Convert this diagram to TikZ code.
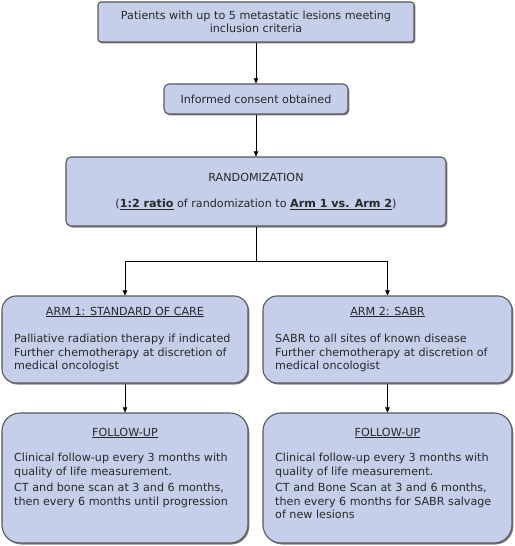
\documentclass[tikz,border=0pt]{standalone}
\usepackage{fontspec}
\setmainfont{DejaVu Sans}
\usetikzlibrary{arrows.meta,positioning,shadows}
\definecolor{boxfill}{RGB}{197,207,234}
\definecolor{boxline}{RGB}{88,88,92}
\definecolor{ink}{RGB}{40,40,40}

\begin{document}
\begin{tikzpicture}[x=1bp,y=-1bp,>={Triangle[length=5bp,width=4.5bp]},
  font=\fontsize{11.2}{13.6}\selectfont,text=ink,
  b/.style={draw=boxline,line width=1.1bp,fill=boxfill,inner sep=0pt,
    drop shadow={shadow xshift=1.3bp,shadow yshift=-1.5bp,opacity=.5,fill=black}},
  s/.style={b,rounded corners=3bp},
  m/.style={b,rounded corners=14bp},
  l/.style={b,rounded corners=18bp},
  tx/.style={inner sep=0pt,align=left,anchor=north west}]
  \useasboundingbox (0,0) rectangle (515,546);
  % boxes
  \node[s,minimum width=316bp,minimum height=40bp,align=center] (pat) at (256,22) {Patients with up to 5 metastatic lesions meeting\\inclusion criteria};
  \node[s,rounded corners=5bp,minimum width=184bp,minimum height=30bp] (cons) at (256,99) {Informed consent obtained};
  \node[s,rounded corners=5bp,minimum width=380bp,minimum height=69bp,align=center] (rand) at (256,191.5)
    {RANDOMIZATION\\[13bp](\textbf{\underline{1:2 ratio}} of randomization to \textbf{\underline{Arm 1 vs. Arm 2}})};
  \node[m,minimum width=246bp,minimum height=87bp] (arm1) at (125,339.5) {};
  \node[m,minimum width=249bp,minimum height=87bp] (arm2) at (387.5,339.5) {};
  \node[l,minimum width=246bp,minimum height=130bp] (fu1) at (125,478) {};
  \node[l,minimum width=249bp,minimum height=130bp] (fu2) at (387.5,478) {};
  % texts
  \node (arm1t) at (125,312) {\underline{ARM 1: STANDARD OF CARE}};
  \node[tx] (arm1b) at (14,334) {Palliative radiation therapy if indicated\\Further chemotherapy at discretion of\\medical oncologist};
  \node (arm2t) at (387.5,312) {\underline{ARM 2: SABR}};
  \node[tx] (arm2b) at (275,334) {SABR to all sites of known disease\\Further chemotherapy at discretion of\\medical oncologist};
  \node (fu1t) at (125,433) {\underline{FOLLOW-UP}};
  \node[tx] (fu1b) at (14,453) {Clinical follow-up every 3 months with\\quality of life measurement.\\[3bp]CT and bone scan at 3 and 6 months,\\then every 6 months until progression};
  \node (fu2t) at (387.5,433) {\underline{FOLLOW-UP}};
  \node[tx] (fu2b) at (275,453) {Clinical follow-up every 3 months with\\quality of life measurement.\\[3bp]CT and Bone Scan at 3 and 6 months,\\then every 6 months for SABR salvage\\of new lesions};
  % arrows
  \coordinate (split) at (256,261);
  \draw[->] (pat.south) -- (cons.north);
  \draw[->] (cons.south) -- (rand.north);
  \draw (rand.south) -- (split);
  \draw[->] (split) -| (arm1.north);
  \draw[->] (split) -| (arm2.north);
  \draw[->] (arm1.south) -- (fu1.north);
  \draw[->] (arm2.south) -- (fu2.north);
\end{tikzpicture}
\end{document}
